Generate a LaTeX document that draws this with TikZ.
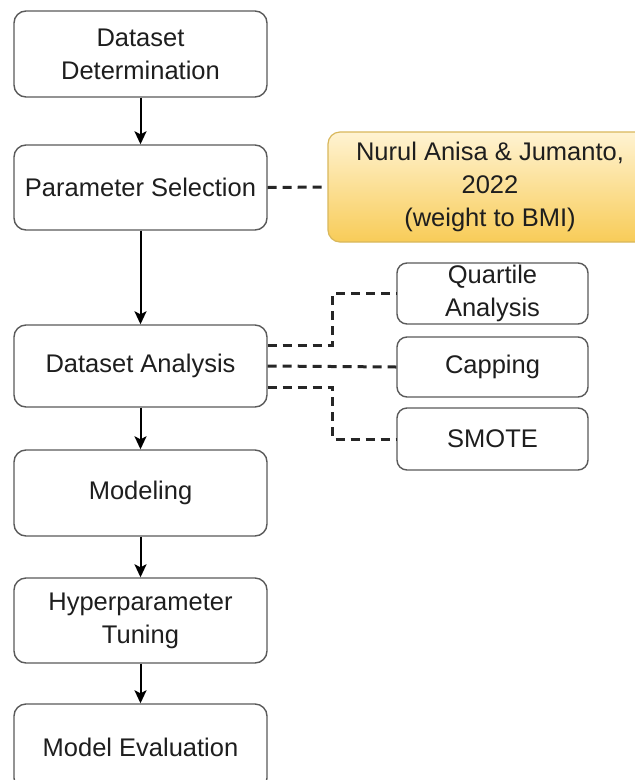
\documentclass[tikz,border=0pt]{standalone}
\usepackage{fontspec}
\setmainfont{Liberation Sans}
\usetikzlibrary{arrows.meta,calc}
\definecolor{boxline}{HTML}{5A5A5A}
\definecolor{txt}{HTML}{1E1E1E}
\definecolor{ytop}{HTML}{FFF3D2}
\definecolor{ybot}{HTML}{F8CC58}
\definecolor{yline}{HTML}{D9B85C}
\tikzset{
  stepbox/.style={draw=boxline, line width=1.4pt, rounded corners=12pt, fill=white,
    minimum width=253pt, align=center, text=txt, inner sep=0pt,
    font=\fontsize{25.5}{33}\selectfont},
  sidebox/.style={draw=boxline, line width=1.4pt, rounded corners=10pt, fill=white,
    minimum width=191pt, align=center, text=txt, inner sep=0pt,
    font=\fontsize{25.5}{33}\selectfont},
  refbox/.style={draw=yline, line width=1.2pt, rounded corners=12pt,
    top color=ytop, bottom color=ybot, minimum width=324pt, minimum height=110pt,
    align=center, text=txt, inner sep=0pt, font=\fontsize{25.5}{33}\selectfont},
  flow/.style={draw=black, line width=2pt, -{Stealth[length=13pt,width=12pt,inset=3pt]}},
  dashline/.style={draw=black!85, line width=3pt, dash pattern=on 9pt off 6pt}
}
\begin{document}
\begin{tikzpicture}[x=1pt,y=-1pt]
\useasboundingbox (0,0) rectangle (635,780);
\clip (0,0) rectangle (635,780);
\fill[white] (0,0) rectangle (635,780);
\node[stepbox, minimum height=86pt] (b1) at (140.5,54) {Dataset\\Determination};
\node[stepbox, minimum height=85pt] (b2) at (140.5,187.5) {Parameter Selection};
\node[stepbox, minimum height=82pt] (b3) at (140.5,366) {Dataset Analysis};
\node[stepbox, minimum height=86pt] (b4) at (140.5,493) {Modeling};
\node[stepbox, minimum height=85pt] (b5) at (140.5,620.5) {Hyperparameter\\Tuning};
\node[stepbox, minimum height=86pt] (b6) at (140.5,747) {Model Evaluation};
\node[refbox] (ref) at (490,187) {Nurul Anisa \& Jumanto,\\2022\\(weight to BMI)};
\node[sidebox, minimum height=61pt] (q) at (492.5,293.5) {Quartile\\Analysis};
\node[sidebox, minimum height=60pt] (c) at (492.5,367) {Capping};
\node[sidebox, minimum height=62pt] (s) at (492.5,439) {SMOTE};
\draw[flow] (b1) -- (b2);
\draw[flow] (b2) -- (b3);
\draw[flow] (b3) -- (b4);
\draw[flow] (b4) -- (b5);
\draw[flow] (b5) -- (b6);
\draw[dashline] (b2.east) -- (ref.west);
\draw[dashline] ([yshift=21pt]b3.east) -- ++(65,0) |- (q.west);
\draw[dashline] (b3.east) -- (c.west);
\draw[dashline] ([yshift=-21pt]b3.east) -- ++(65,0) |- (s.west);
\end{tikzpicture}
\end{document}
